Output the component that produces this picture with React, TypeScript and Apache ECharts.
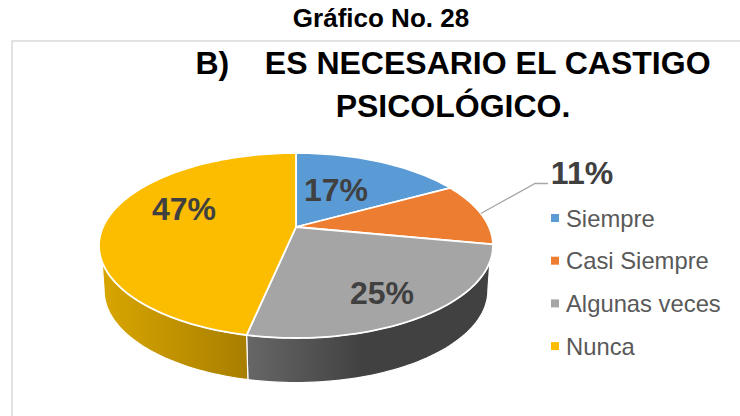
import React, { useEffect, useRef } from "react";
import * as echarts from "echarts";

const categories = ["Siempre", "Casi Siempre", "Algunas veces", "Nunca"];
const values = [17, 11, 25.3, 46.7];
const colors = ["#5B9BD5", "#ED7D31", "#A5A5A5", "#FCBD00"];
const chartHeading = "Gráfico No. 28";
const chartTitle = "B)    ES NECESARIO EL CASTIGO\nPSICOLÓGICO.";

// Placement of the percentage labels (centre of each text, in pixels).
const labelCentres = [
  [336, 190],
  [582, 173],
  [382, 293],
  [184, 209],
];
const FONT = '"Liberation Sans", Arial, sans-serif';

// Perspective projection of the pie's rim: a = tilt strength.
const TILT = 0.2;
const TOP = { cx: 296, y0: 227, c: 193, b: 88.8 };
const BASE = { cx: 296, y0: 272.2, c: 188, b: 88.3 };
type Disc = typeof TOP;

const project = (d: Disc, deg: number, r = 1): number[] => {
  const t = (deg * Math.PI) / 180;
  const u = Math.sin(t) * r;
  const v = -Math.cos(t) * r;
  const w = 1 - TILT * v;
  return [d.cx + (d.c * u) / w, d.y0 + (d.b * v) / w];
};

const arc = (d: Disc, from: number, to: number): number[][] => {
  const n = Math.max(2, Math.ceil(Math.abs(to - from) / 1.5));
  const pts: number[][] = [];
  for (let i = 0; i <= n; i++) pts.push(project(d, from + ((to - from) * i) / n));
  return pts;
};

const total = values.reduce((s, x) => s + x, 0);
const startAngle = (i: number) =>
  (values.slice(0, i).reduce((s, x) => s + x, 0) / total) * 360;

// Angular range in which the wall faces the viewer, on the rim and on the base.
const RIM_FROM = 111.4;
const RIM_TO = 248.6;
const BASE_FROM = 101.5;
const BASE_TO = 258.5;

const wallFill = (i: number) =>
  i === 3
    ? new echarts.graphic.LinearGradient(0, 0, 1, 0, [
        { offset: 0, color: "#D8A600" },
        { offset: 1, color: "#A87E00" },
      ])
    : new echarts.graphic.LinearGradient(0, 0, 1, 0, [
        { offset: 0, color: "#676767" },
        { offset: 0.48, color: "#414141" },
        { offset: 1, color: "#414141" },
      ]);

const renderSlice = (i: number) => () => {
  const a0 = startAngle(i);
  const a1 = startAngle(i + 1);
  const children: any[] = [];

  if (Math.min(a1, BASE_TO) > Math.max(a0, BASE_FROM)) {
    const rim = arc(TOP, Math.max(a0, RIM_FROM), Math.min(a1, RIM_TO));
    const base = arc(BASE, Math.min(a1, BASE_TO), Math.max(a0, BASE_FROM));
    children.push({
      type: "polygon",
      shape: { points: [...rim, ...base] },
      style: { fill: wallFill(i), stroke: "#FFFFFF", lineWidth: 1.2 },
    });
  }

  children.push({
    type: "polygon",
    shape: { points: [[TOP.cx, TOP.y0], ...arc(TOP, a0, a1)] },
    style: { fill: colors[i], stroke: "#FFFFFF", lineWidth: 1.8 },
  });

  const pct = `${Math.round((values[i] / total) * 100)}%`;
  if (i === 1) {
    const rim = project(TOP, (a0 + a1) / 2);
    children.push({
      type: "polyline",
      shape: { points: [rim, [535, 183.5], [548, 183.5]] },
      style: { fill: "none", stroke: "#A6A6A6", lineWidth: 1.3 },
    });
  }
  children.push({
    type: "text",
    style: {
      x: labelCentres[i][0],
      y: labelCentres[i][1],
      text: pct,
      fill: "#404040",
      fontSize: 32,
      fontWeight: "bold",
      fontFamily: FONT,
      align: "center",
      verticalAlign: "middle",
    },
  });
  return { type: "group", children };
};

export default function App() {
  const ref = useRef<HTMLDivElement>(null);
  useEffect(() => {
    const chart = echarts.init(ref.current!, undefined, { renderer: "svg" });
    chart.setOption({
      animation: false,
      backgroundColor: "#FFFFFF",
      title: [
        {
          text: chartHeading,
          left: 381,
          top: 5,
          textAlign: "center",
          padding: 0,
          textStyle: { fontFamily: FONT, fontSize: 26, fontWeight: "bold", color: "#000000" },
        },
        {
          text: chartTitle,
          left: 453,
          top: 41,
          textAlign: "center",
          padding: 0,
          textStyle: {
            fontFamily: FONT,
            fontSize: 32,
            fontWeight: "bold",
            color: "#000000",
            lineHeight: 43,
          },
        },
      ],
      legend: {
        orient: "vertical",
        left: 551,
        top: 204,
        padding: 0,
        itemWidth: 8,
        itemHeight: 8,
        itemGap: 14.7,
        icon: "rect",
        data: categories,
        selectedMode: false,
        textStyle: {
          fontFamily: FONT,
          fontSize: 23.8,
          color: "#595959",
          lineHeight: 28,
          padding: [0, 0, 0, 2],
        },
      },
      graphic: [
        {
          type: "polyline",
          silent: true,
          shape: { points: [[12, 416], [12, 41], [740, 41]] },
          style: { fill: "none", stroke: "#D9D9D9", lineWidth: 1.5 },
        },
      ],
      series: categories.map((name, i) => ({
        type: "custom",
        name,
        coordinateSystem: "none",
        silent: true,
        itemStyle: { color: colors[i] },
        data: [values[i]],
        renderItem: renderSlice(i),
      })),
    });
    return () => chart.dispose();
  }, []);
  return <div ref={ref} style={{ position: "fixed", left: 0, top: 0, width: 740, height: 416 }} />;
}
